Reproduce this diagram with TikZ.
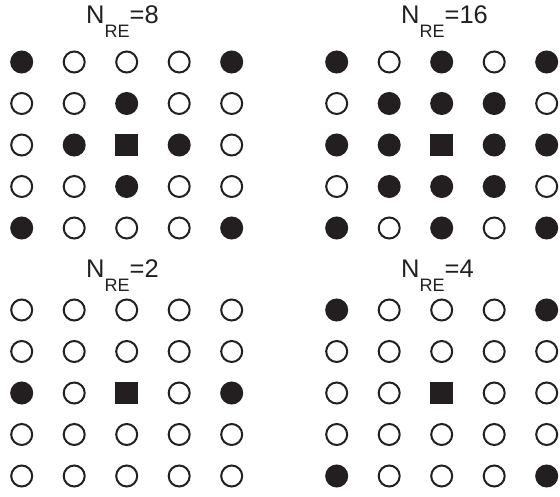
\documentclass[tikz,border=0pt]{standalone}
\usepackage{fontspec}
\setmainfont{Liberation Sans}
\definecolor{ink}{RGB}{35,31,32}
\tikzset{
  dotopen/.style={circle,draw=ink,line width=2pt,fill=white,minimum size=21pt,inner sep=0pt},
  dotfull/.style={circle,draw=ink,line width=2pt,fill=ink,minimum size=21pt,inner sep=0pt},
  dotsq/.style={rectangle,fill=ink,minimum size=22.5pt,inner sep=0pt},
  ttl/.style={anchor=base west,inner sep=0pt,text=ink,font=\fontsize{25.5}{27}\selectfont}
}
\newcommand\gridtitle[1]{N\raisebox{-14pt}{\fontsize{18}{19}\selectfont RE}=#1}
\newcommand\drawgrid[4]{%
  \foreach \v [count=\i from 0] in {#4} {
    \pgfmathtruncatemacro\rr{int(\i/5)}
    \pgfmathtruncatemacro\cc{mod(\i,5)}
    \node[\v] (#1-\rr-\cc) at ({#2+\cc*52.5pt},{#3-\rr*41.5pt}) {};
  }%
}
\begin{document}
\begin{tikzpicture}[x=1pt,y=1pt]
\useasboundingbox (0,0) rectangle (560,496);
% titles
\node[ttl] (t8)  at (86,472.5)   {\gridtitle{8}};
\node[ttl] (t16) at (401,472.5)  {\gridtitle{16}};
\node[ttl] (t2)  at (86,218.7) {\gridtitle{2}};
\node[ttl] (t4)  at (401,218.7){\gridtitle{4}};
% grids
\drawgrid{a}{21.7pt}{434pt}{dotfull,dotopen,dotopen,dotopen,dotfull,
  dotopen,dotopen,dotfull,dotopen,dotopen,
  dotopen,dotfull,dotsq,dotfull,dotopen,
  dotopen,dotopen,dotfull,dotopen,dotopen,
  dotfull,dotopen,dotopen,dotopen,dotfull}
\drawgrid{b}{336.7pt}{434pt}{dotfull,dotopen,dotfull,dotopen,dotfull,
  dotopen,dotfull,dotfull,dotfull,dotopen,
  dotfull,dotfull,dotsq,dotfull,dotfull,
  dotopen,dotfull,dotfull,dotfull,dotopen,
  dotfull,dotopen,dotfull,dotopen,dotfull}
\drawgrid{c}{21.7pt}{186pt}{dotopen,dotopen,dotopen,dotopen,dotopen,
  dotopen,dotopen,dotopen,dotopen,dotopen,
  dotfull,dotopen,dotsq,dotopen,dotfull,
  dotopen,dotopen,dotopen,dotopen,dotopen,
  dotopen,dotopen,dotopen,dotopen,dotopen}
\drawgrid{d}{336.7pt}{186pt}{dotfull,dotopen,dotopen,dotopen,dotfull,
  dotopen,dotopen,dotopen,dotopen,dotopen,
  dotopen,dotopen,dotsq,dotopen,dotopen,
  dotopen,dotopen,dotopen,dotopen,dotopen,
  dotfull,dotopen,dotopen,dotopen,dotfull}
\end{tikzpicture}
\end{document}
